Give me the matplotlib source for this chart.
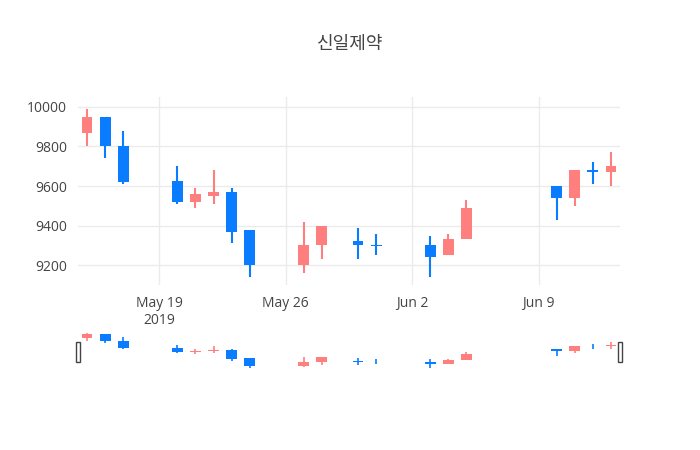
import matplotlib.pyplot as plt
import matplotlib.dates as md
import pandas as pd
import numpy as np

plt.rcParams['font.family'] = ['Open Sans', 'Noto Sans CJK KR', 'DejaVu Sans']

dates = pd.to_datetime([
    "2019-05-15", "2019-05-16", "2019-05-17", "2019-05-20", "2019-05-21",
    "2019-05-22", "2019-05-23", "2019-05-24", "2019-05-27", "2019-05-28",
    "2019-05-30", "2019-05-31", "2019-06-03", "2019-06-04", "2019-06-05",
    "2019-06-10", "2019-06-11", "2019-06-12", "2019-06-13"])
opens = [9870, 9950, 9800, 9625, 9520, 9550, 9570, 9380, 9200, 9300,
         9320, 9300, 9300, 9250, 9330, 9600, 9540, 9680, 9670]
highs = [9990, 9950, 9880, 9700, 9590, 9680, 9590, 9380, 9420, 9400,
         9390, 9360, 9350, 9360, 9530, 9600, 9680, 9720, 9770]
lows = [9800, 9740, 9610, 9510, 9490, 9510, 9310, 9140, 9160, 9230,
        9230, 9250, 9140, 9250, 9330, 9430, 9500, 9610, 9600]
closes = [9950, 9800, 9620, 9520, 9560, 9570, 9370, 9200, 9300, 9400,
          9300, 9295, 9240, 9330, 9490, 9540, 9680, 9670, 9700]

UP = "#ff7f7f"
DOWN = "#0a7cff"

fig = plt.figure(figsize=(7, 4.5), dpi=100)
ax = fig.add_axes([78 / 700, 1 - 285 / 450, 542 / 700, 188 / 450])
rs = fig.add_axes([78 / 700, 1 - 370 / 450, 542 / 700, 40 / 450])


def draw(a, lw_wick):
    x = md.date2num(dates)
    for xi, o, h, l, c in zip(x, opens, highs, lows, closes):
        col = UP if c >= o else DOWN
        a.vlines(xi, l, h, color=col, lw=lw_wick, zorder=2)
        a.bar(xi, max(abs(c - o), 5), bottom=min(o, c), width=0.6,
              color=col, zorder=3)


draw(ax, 1.5)
draw(rs, 1.2)

xmin = md.date2num(pd.Timestamp("2019-05-14 12:00"))
xmax = md.date2num(pd.Timestamp("2019-06-13 12:00"))
for a in (ax, rs):
    a.set_xlim(xmin, xmax)
    for s in a.spines.values():
        s.set_visible(False)

ax.set_ylim(9100, 10050)
ax.set_yticks([9200, 9400, 9600, 9800, 10000])
ax.set_yticklabels(["9200", "9400", "9600", "9800", "10000"])
ticks = pd.to_datetime(["2019-05-19", "2019-05-26", "2019-06-02", "2019-06-09"])
ax.set_xticks(md.date2num(ticks))
ax.set_xticklabels(["May 19\n2019", "May 26", "Jun 2", "Jun 9"])
ax.grid(color="#ebebeb", lw=1, zorder=0)
ax.tick_params(length=0, labelsize=10, colors="#444444", pad=8)

rs.set_ylim(9100, 10050)
rs.set_xticks([])
rs.set_yticks([])
for xa in (0, 1):
    rs.add_patch(plt.Rectangle((xa - 0.004, 0.2), 0.008, 0.5, transform=rs.transAxes,
                               facecolor="white", edgecolor="#444444", lw=1,
                               clip_on=False, zorder=5))

fig.text(0.5, 1 - 44 / 450, "신일제약", ha="center", va="center",
         fontsize=13, color="#444444")

fig.savefig("out.png")
